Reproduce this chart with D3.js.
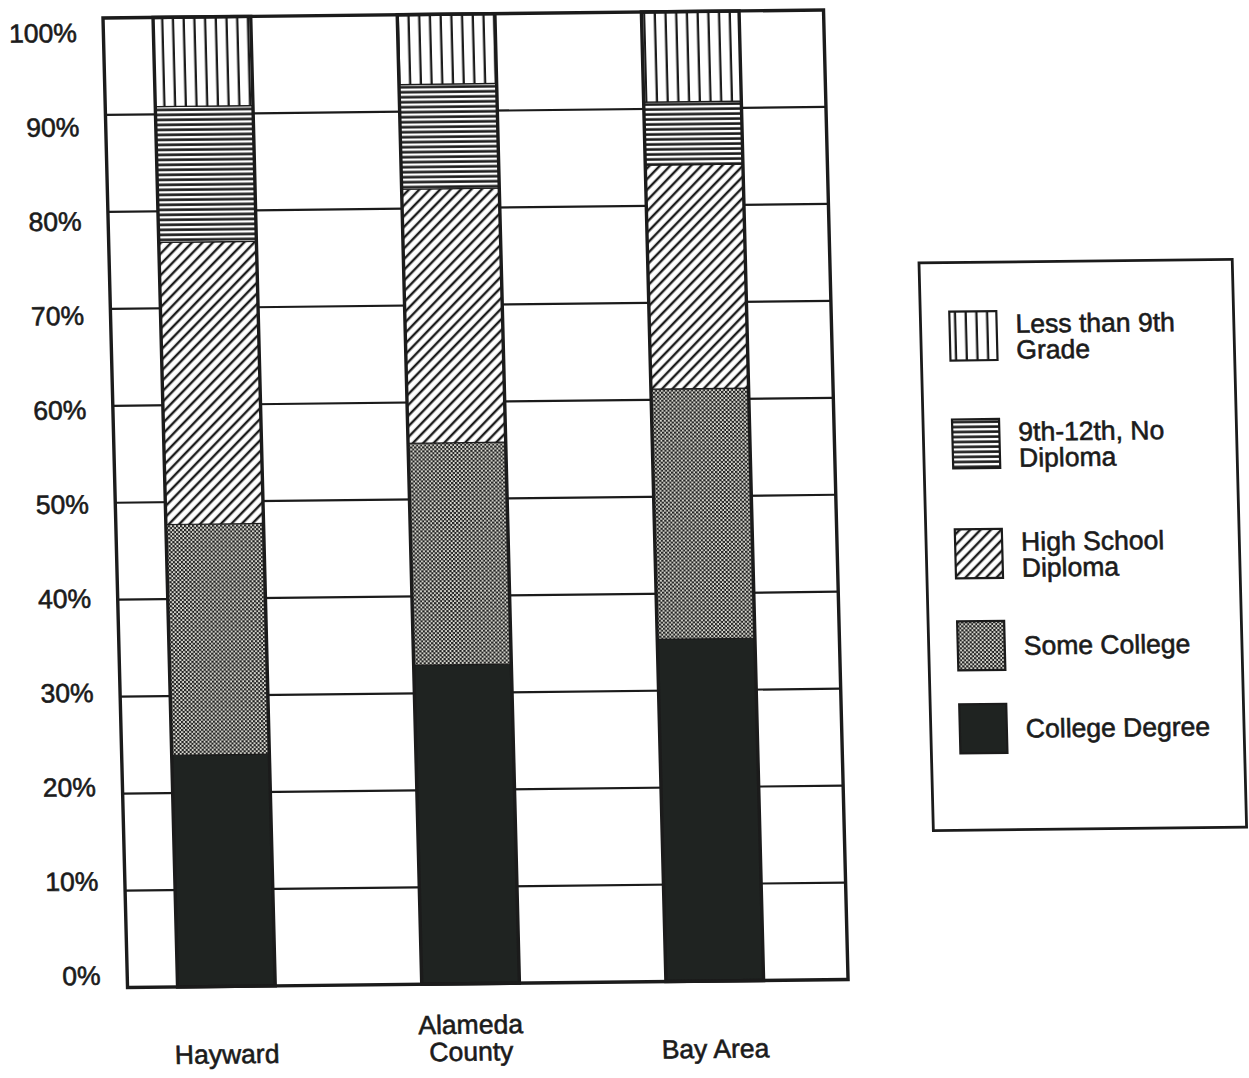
<!DOCTYPE html>
<html>
<head>
<meta charset="utf-8">
<script src="https://cdn.jsdelivr.net/npm/d3@7"></script>
<style>
  html, body { margin: 0; padding: 0; background: #fff; }
  svg { display: block; }
  text { font-family: "Liberation Sans", Arial, Helvetica, sans-serif; fill: #1b1b1b; }
</style>
</head>
<body>
<svg id="chart" width="1249" height="1078"></svg>
<script>
// Educational attainment, percent of adult population
const categories = ["Hayward", "Alameda County", "Bay Area"];
const categoryLines = [["Hayward"], ["Alameda", "County"], ["Bay Area"]];

const levels = ["College Degree", "Some College", "High School Diploma", "9th-12th, No Diploma", "Less than 9th Grade"];
const collegeDegree = [23.9, 32.9, 35.3];
const someCollege   = [23.8, 22.9, 25.8];
const highSchool    = [29.1, 26.2, 23.1];
const noDiploma     = [14.0, 10.8, 6.5];
const lessThan9th   = [9.2, 7.2, 9.3];

const tickValues = [0, 10, 20, 30, 40, 50, 60, 70, 80, 90, 100];
const tickLabels = ["0%", "10%", "20%", "30%", "40%", "50%", "60%", "70%", "80%", "90%", "100%"];

const legendLines = [
  ["Less than 9th", "Grade"],
  ["9th-12th, No", "Diploma"],
  ["High School", "Diploma"],
  ["Some College"],
  ["College Degree"]
];

// table for d3.stack
const seriesByLevel = {
  "College Degree": collegeDegree,
  "Some College": someCollege,
  "High School Diploma": highSchool,
  "9th-12th, No Diploma": noDiploma,
  "Less than 9th Grade": lessThan9th
};
const rows = categories.map((c, i) => {
  const r = { category: c };
  levels.forEach(k => { r[k] = seriesByLevel[k][i]; });
  return r;
});

const INK = "#1b1b1b";
const W = 720, H = 970;

const svg = d3.select("#chart");
const defs = svg.append("defs");

// fill patterns
const pVert = defs.append("pattern").attr("id", "pat-vert")
  .attr("patternUnits", "userSpaceOnUse").attr("width", 10.7).attr("height", 10);
pVert.append("rect").attr("width", 10.7).attr("height", 10).attr("fill", "#fff");
pVert.append("rect").attr("x", 4.5).attr("width", 2.3).attr("height", 10).attr("fill", INK);

const pHoriz = defs.append("pattern").attr("id", "pat-horiz")
  .attr("patternUnits", "userSpaceOnUse").attr("width", 10).attr("height", 5);
pHoriz.append("rect").attr("width", 10).attr("height", 5).attr("fill", "#fff");
pHoriz.append("rect").attr("y", 1.3).attr("width", 10).attr("height", 2.6).attr("fill", INK);

const pDiag = defs.append("pattern").attr("id", "pat-diag")
  .attr("patternUnits", "userSpaceOnUse").attr("width", 7.4).attr("height", 10)
  .attr("patternTransform", "rotate(45)");
pDiag.append("rect").attr("width", 7.4).attr("height", 10).attr("fill", "#fff");
pDiag.append("rect").attr("x", 2.6).attr("width", 2.4).attr("height", 10).attr("fill", INK);

const pDots = defs.append("pattern").attr("id", "pat-dots")
  .attr("patternUnits", "userSpaceOnUse").attr("width", 4).attr("height", 4);
pDots.append("rect").attr("width", 4).attr("height", 4).attr("fill", "#d8d8d0");
pDots.append("rect").attr("width", 2.2).attr("height", 2.2).attr("fill", "#232323");
pDots.append("rect").attr("x", 2).attr("y", 2).attr("width", 2.2).attr("height", 2.2).attr("fill", "#232323");

const fills = {
  "Less than 9th Grade": "url(#pat-vert)",
  "9th-12th, No Diploma": "url(#pat-horiz)",
  "High School Diploma": "url(#pat-diag)",
  "Some College": "url(#pat-dots)",
  "College Degree": "#1f2321"
};

// whole page sits on a slightly skewed sheet
const g = svg.append("g")
  .attr("transform", "matrix(1.0007,-0.0111,0.0253,0.9995,103,18)");

const x = d3.scaleBand().domain(categories).range([0, W])
  .paddingInner(0.6).paddingOuter(0.2754).align(0.372);
const y = d3.scaleLinear().domain([0, 100]).range([H, 0]);
// tick text sits on its own evenly spaced column
const yText = d3.scaleLinear().domain([0, 100]).range([958, 14.7]);

// horizontal grid lines
g.append("g").selectAll("line")
  .data(tickValues.filter(v => v > 0 && v < 100))
  .join("line")
  .attr("x1", 0).attr("x2", W)
  .attr("y1", d => y(d)).attr("y2", d => y(d))
  .attr("stroke", INK).attr("stroke-width", 2.2);

// stacked bars
const stack = d3.stack().keys(levels);
const stacked = stack(rows);

const layers = g.append("g").selectAll("g")
  .data(stacked)
  .join("g")
  .attr("fill", d => fills[d.key]);

layers.selectAll("rect")
  .data(d => d)
  .join("rect")
  .attr("x", d => x(d.data.category))
  .attr("width", x.bandwidth())
  .attr("y", d => y(d[1]))
  .attr("height", d => y(d[0]) - y(d[1]))
  .attr("stroke", INK).attr("stroke-width", 1.2);

// bar outlines
g.append("g").selectAll("rect")
  .data(categories)
  .join("rect")
  .attr("x", d => x(d))
  .attr("width", x.bandwidth())
  .attr("y", y(100))
  .attr("height", y(0) - y(100))
  .attr("fill", "none")
  .attr("stroke", INK).attr("stroke-width", 3.4);

// plot frame
g.append("rect")
  .attr("x", 0).attr("y", 0).attr("width", W).attr("height", H)
  .attr("fill", "none").attr("stroke", INK).attr("stroke-width", 3.4);

// y axis labels
const yAxis = d3.axisLeft(yText)
  .tickValues(tickValues)
  .tickFormat((d, i) => tickLabels[i])
  .tickSize(0).tickPadding(0);
const ya = g.append("g").attr("transform", "translate(-26.5,0)").call(yAxis);
ya.select(".domain").remove();
ya.selectAll("text")
  .attr("font-family", "Liberation Sans, Arial, sans-serif")
  .attr("font-size", 26.5)
  .attr("fill", INK)
  .attr("stroke", INK).attr("stroke-width", 0.6);

// category labels
const catG = g.append("g").selectAll("text")
  .data(categories)
  .join("text")
  .attr("text-anchor", "middle")
  .attr("font-size", 26.5)
  .attr("stroke", INK).attr("stroke-width", 0.6)
  .attr("transform", d => `translate(${x(d) + x.bandwidth() / 2 - 1},${H + 77})`);
catG.each(function(d, i) {
  const lines = categoryLines[i];
  const t = d3.select(this);
  lines.forEach((ln, j) => {
    t.append("tspan").attr("x", 0)
      .attr("y", (j - (lines.length - 1)) * 27)
      .text(ln);
  });
});

// legend
const legend = g.append("g").attr("transform", "translate(809,254)");
legend.append("rect")
  .attr("width", 313).attr("height", 568)
  .attr("fill", "none").attr("stroke", INK).attr("stroke-width", 2.8);

const legendOrder = ["Less than 9th Grade", "9th-12th, No Diploma", "High School Diploma", "Some College", "College Degree"];
const swatchTop = [49, 157, 267, 359, 442];

const items = legend.selectAll("g.item")
  .data(legendOrder)
  .join("g").attr("class", "item")
  .attr("transform", (d, i) => `translate(29,${swatchTop[i]})`);

items.append("rect")
  .attr("width", 47).attr("height", 49)
  .attr("fill", d => fills[d])
  .attr("stroke", INK).attr("stroke-width", 2.2);

items.append("text")
  .attr("font-size", 26.5)
  .attr("stroke", INK).attr("stroke-width", 0.6)
  .each(function(d, i) {
    const lines = legendLines[i];
    const t = d3.select(this);
    const first = lines.length === 1 ? 34 : 22;
    lines.forEach((ln, j) => {
      t.append("tspan").attr("x", 66).attr("y", first + j * 26).text(ln);
    });
  });
</script>
</body>
</html>
